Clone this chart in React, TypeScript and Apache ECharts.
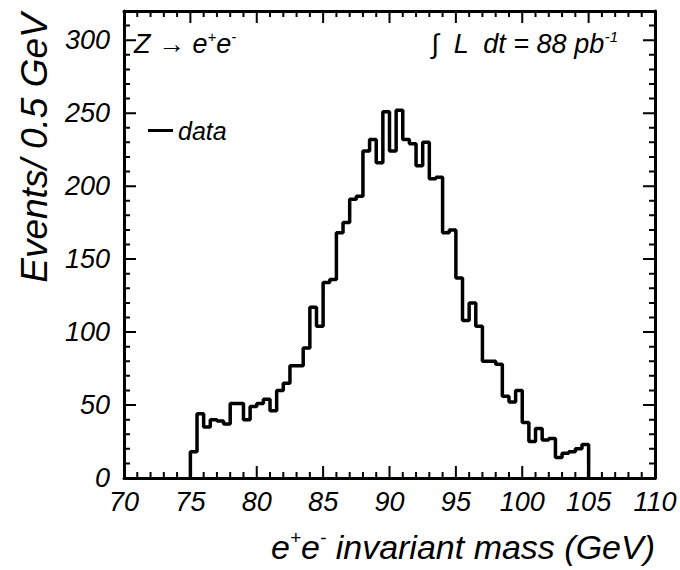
import React, { useEffect, useRef } from "react";
import * as echarts from "echarts";

// Histogram: e+e- invariant mass, 0.5 GeV bins from 75 to 105 GeV
const binStart = 75;
const binWidth = 0.5;
const counts = [
  18, 44, 35, 40, 39, 37, 51, 51, 40, 49,
  51, 54, 46, 60, 65, 77, 77, 89, 117, 104,
  134, 136, 168, 175, 191, 193, 224, 232, 216, 251,
  224, 252, 232, 229, 214, 230, 205, 206, 168, 170,
  137, 108, 120, 104, 80, 80, 78, 56, 52, 60,
  38, 25, 34, 26, 27, 14, 17, 18, 20, 23,
];
const xMin = 70;
const xMax = 110;
const xMajor = 5;
const xMinor = 1;
const yMin = 0;
const yMax = 320;
const yMajor = 50;
const yMinor = 10;
const seriesName = "data";
const yTitle = "Events/ 0.5 GeV";

const FONT = "'Liberation Sans', Arial, Helvetica, sans-serif";

const W = 680;
const H = 570;
const GRID = { left: 124, right: 25, top: 11, bottom: 92 };

export default function App() {
  const ref = useRef<HTMLDivElement>(null);
  useEffect(() => {
    document.body.style.margin = "0";
    const chart = echarts.init(ref.current!, null, { renderer: "svg" });

    const data: [number, number][] = [[binStart, 0]];
    counts.forEach((c, i) => data.push([binStart + i * binWidth, c]));
    data.push([binStart + counts.length * binWidth, 0]);

    // Tick marks: comb-shaped polylines along each side of the frame
    const xPerPx = (xMax - xMin) / (W - GRID.left - GRID.right);
    const yPerPx = (yMax - yMin) / (H - GRID.top - GRID.bottom);
    const majorLen = 12;
    const minorLen = 6;
    const bottomComb: [number, number][] = [];
    const topComb: [number, number][] = [];
    for (let v = xMin; v <= xMax + 1e-9; v += xMinor) {
      const len = (Math.abs(v % xMajor) < 1e-9 ? majorLen : minorLen) * yPerPx;
      bottomComb.push([v, yMin], [v, yMin + len], [v, yMin]);
      topComb.push([v, yMax], [v, yMax - len], [v, yMax]);
    }
    const leftComb: [number, number][] = [];
    const rightComb: [number, number][] = [];
    for (let v = yMin; v <= yMax + 1e-9; v += yMinor) {
      const len = (Math.abs(v % yMajor) < 1e-9 ? majorLen : minorLen) * xPerPx;
      leftComb.push([xMin, v], [xMin + len, v], [xMin, v]);
      rightComb.push([xMax, v], [xMax - len, v], [xMax, v]);
    }
    const combSeries = (name: string, pts: [number, number][]) => ({
      name,
      type: "line",
      data: pts,
      symbol: "none",
      showSymbol: false,
      clip: false,
      xAxisIndex: 0,
      yAxisIndex: 0,
      lineStyle: { color: "#000", width: 2 },
      itemStyle: { color: "#000" },
      emphasis: { disabled: true },
      z: 4,
    });

    const lineW = 3;
    const axisCommon = {
      type: "value" as const,
      splitLine: { show: false },
      axisTick: { show: false },
      axisLine: { show: true, onZero: false, lineStyle: { color: "#000", width: lineW } },
    };
    const labelStyle = {
      color: "#000",
      fontFamily: FONT,
      fontStyle: "italic" as const,
      fontSize: 27,
    };

    chart.setOption({
      animation: false,
      grid: GRID,
      legend: {
        show: true,
        data: [seriesName],
        left: 143,
        top: 113,
        icon: "rect",
        itemWidth: 25,
        itemHeight: 3,
        textStyle: { ...labelStyle, fontSize: 25 },
      },
      xAxis: [
        {
          ...axisCommon,
          position: "bottom",
          min: xMin,
          max: xMax,
          interval: xMajor,
          axisLabel: { ...labelStyle, margin: 10 },
        },
        {
          ...axisCommon,
          position: "top",
          min: xMin,
          max: xMax,
          interval: xMajor,
          axisLabel: { show: false },
        },
      ],
      yAxis: [
        {
          ...axisCommon,
          position: "left",
          min: yMin,
          max: yMax,
          interval: yMajor,
          axisLabel: {
            ...labelStyle,
            margin: 14,
            formatter: (v: number) => (v % yMajor === 0 ? String(v) : ""),
          },
        },
        {
          ...axisCommon,
          position: "right",
          min: yMin,
          max: yMax,
          interval: yMajor,
          axisLabel: { show: false },
        },
      ],
      series: [
        {
          name: seriesName,
          type: "line",
          step: "end",
          data,
          symbol: "none",
          showSymbol: false,
          xAxisIndex: 0,
          yAxisIndex: 0,
          lineStyle: { color: "#000", width: 3.5 },
          itemStyle: { color: "#000" },
        },
        combSeries("ticksBottom", bottomComb),
        combSeries("ticksTop", topComb),
        combSeries("ticksLeft", leftComb),
        combSeries("ticksRight", rightComb),
      ],
      graphic: [
        {
          type: "text",
          left: 134,
          top: 29,
          style: {
            text: "{n|Z → e}{s|+}{n|e}{s|-}",
            rich: {
              n: { fontFamily: FONT, fontStyle: "italic", fontSize: 27, fill: "#000", lineHeight: 30 },
              s: { fontFamily: FONT, fontStyle: "italic", fontSize: 15, fill: "#000", verticalAlign: "top", lineHeight: 30 },
            },
          },
        },
        {
          type: "text",
          right: 62,
          top: 29,
          style: {
            text: "{n|∫  L  dt = 88 pb}{s|-1}",
            rich: {
              n: { fontFamily: FONT, fontStyle: "italic", fontSize: 27, fill: "#000", lineHeight: 30 },
              s: { fontFamily: FONT, fontStyle: "italic", fontSize: 15, fill: "#000", verticalAlign: "top", lineHeight: 30 },
            },
          },
        },
        {
          type: "text",
          x: 34,
          y: 148,
          rotation: Math.PI / 2,
          style: {
            text: yTitle,
            fontFamily: FONT,
            fontStyle: "italic",
            fontSize: 37,
            fill: "#000",
            textAlign: "center",
            textVerticalAlign: "middle",
          },
        },
        {
          type: "text",
          right: 25,
          top: 528,
          style: {
            text: "{n|e}{s|+}{n|e}{s|-}{n| invariant mass (GeV)}",
            rich: {
              n: { fontFamily: FONT, fontStyle: "italic", fontSize: 34, fill: "#000", lineHeight: 38 },
              s: { fontFamily: FONT, fontStyle: "italic", fontSize: 19, fill: "#000", verticalAlign: "top", lineHeight: 38 },
            },
          },
        },
      ],
    });
    return () => chart.dispose();
  }, []);
  return <div ref={ref} style={{ width: W, height: H }} />;
}
